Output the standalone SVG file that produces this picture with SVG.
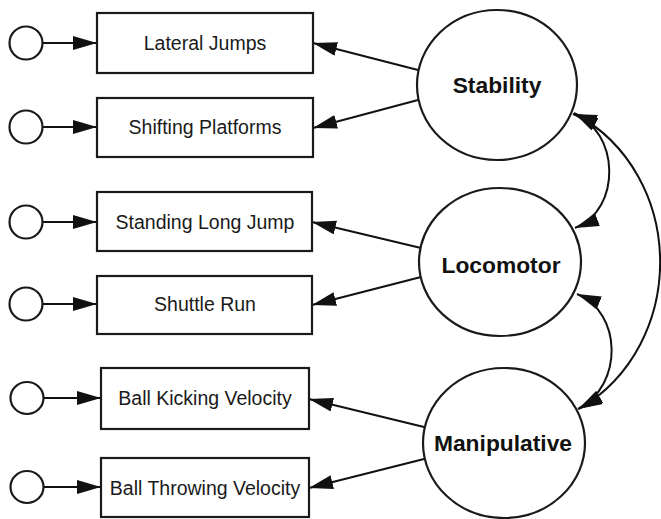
<svg xmlns="http://www.w3.org/2000/svg" width="661" height="519" viewBox="0 0 661 519">
<defs>
<marker id="ah" markerUnits="userSpaceOnUse" markerWidth="26" markerHeight="16" refX="24" refY="7" orient="auto-start-reverse">
<path d="M0,0 L24,7 L0,14 Z" fill="#111"/>
</marker>
<style>
.box{fill:#fff;stroke:#1a1a1a;stroke-width:2.2}
.err{fill:#fff;stroke:#1a1a1a;stroke-width:2.2}
.lat{fill:#fff;stroke:#1a1a1a;stroke-width:2.2}
.lbl{font-family:"Liberation Sans",Arial,sans-serif;font-size:19.5px;fill:#1a1a1a;text-anchor:middle}
.big{font-family:"Liberation Sans",Arial,sans-serif;font-size:22.8px;font-weight:bold;fill:#111;text-anchor:middle}
.c{fill:none;stroke:#111;stroke-width:2;marker-end:url(#ah)}
.cv{fill:none;stroke:#111;stroke-width:2;marker-start:url(#ah);marker-end:url(#ah)}
</style>
</defs>
<rect width="661" height="519" fill="#fff"/>
<g id="connectors">
<line class="c" x1="43" y1="43" x2="97" y2="43"/>
<line class="c" x1="43" y1="127" x2="97" y2="127"/>
<line class="c" x1="43" y1="222" x2="97" y2="222"/>
<line class="c" x1="43" y1="304" x2="97" y2="304"/>
<line class="c" x1="44" y1="398" x2="101" y2="398"/>
<line class="c" x1="44" y1="487" x2="101" y2="487"/>
<line class="c" x1="418" y1="70" x2="313" y2="43"/>
<line class="c" x1="418" y1="100" x2="313" y2="128"/>
<line class="c" x1="421" y1="248" x2="312" y2="222"/>
<line class="c" x1="421" y1="277" x2="312" y2="305"/>
<line class="c" x1="424" y1="427" x2="309" y2="399"/>
<line class="c" x1="424" y1="459" x2="309" y2="488"/>
<path class="cv" d="M573,114 C620,130 622,210 575,228"/>
<path class="cv" d="M577,294 C622,312 624,385 578,409"/>
<path class="cv" d="M574,113 C688,175 688,345 579,409"/>
</g>
<g id="e1"><ellipse class="err" cx="26" cy="43" rx="16.5" ry="16.5"/></g>
<g id="e2"><ellipse class="err" cx="26" cy="127" rx="16.5" ry="16.5"/></g>
<g id="e3"><ellipse class="err" cx="26" cy="222" rx="16.5" ry="16.5"/></g>
<g id="e4"><ellipse class="err" cx="26" cy="304" rx="16.5" ry="16.5"/></g>
<g id="e5"><ellipse class="err" cx="27" cy="398" rx="16.5" ry="16"/></g>
<g id="e6"><ellipse class="err" cx="27" cy="487" rx="16.5" ry="16"/></g>
<g id="lateral-jumps"><rect class="box" x="97" y="13" width="216" height="60"/><text class="lbl" x="205" y="50">Lateral Jumps</text></g>
<g id="shifting-platforms"><rect class="box" x="97" y="98" width="216" height="59"/><text class="lbl" x="205" y="134">Shifting Platforms</text></g>
<g id="standing-long-jump"><rect class="box" x="97" y="192" width="215" height="59"/><text class="lbl" x="205" y="229">Standing Long Jump</text></g>
<g id="shuttle-run"><rect class="box" x="97" y="276" width="215" height="58"/><text class="lbl" x="205" y="311">Shuttle Run</text></g>
<g id="ball-kicking"><rect class="box" x="101" y="368" width="208" height="61"/><text class="lbl" x="205" y="405">Ball Kicking Velocity</text></g>
<g id="ball-throwing"><rect class="box" x="101" y="458" width="208" height="59"/><text class="lbl" x="205" y="495">Ball Throwing Velocity</text></g>
<g id="stability"><ellipse class="lat" cx="497" cy="85" rx="80" ry="75"/><text class="big" x="497" y="93">Stability</text></g>
<g id="locomotor"><ellipse class="lat" cx="500" cy="262" rx="81" ry="74"/><text class="big" x="501" y="273">Locomotor</text></g>
<g id="manipulative"><ellipse class="lat" cx="504" cy="443" rx="81" ry="75"/><text class="big" x="503" y="451">Manipulative</text></g>
</svg>
